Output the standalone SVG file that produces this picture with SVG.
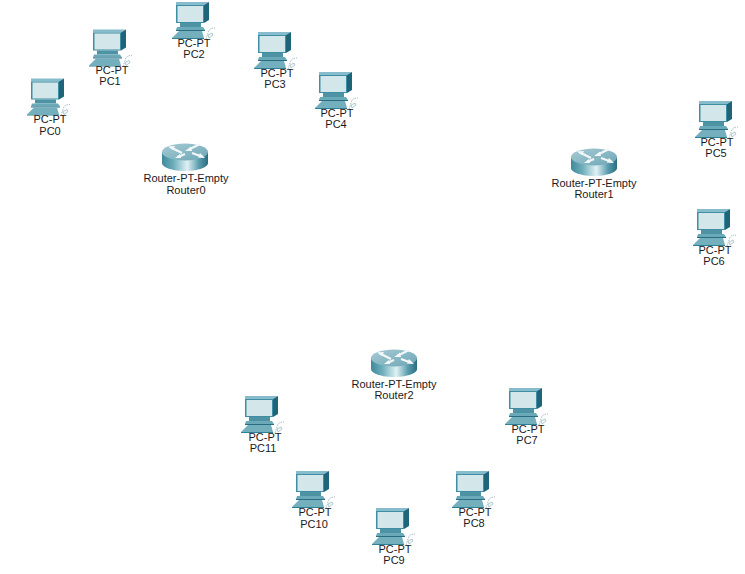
<svg xmlns="http://www.w3.org/2000/svg" width="745" height="574" viewBox="0 0 745 574">
<style>
text{font-family:"Liberation Sans",Arial,sans-serif;font-size:11px;fill:#1a1a1a;text-anchor:middle}
</style>
<defs>
<linearGradient id="body" x1="0" x2="1" y1="0" y2="0">
<stop offset="0" stop-color="#3f8a9c"/><stop offset=".25" stop-color="#6eaebb"/><stop offset=".55" stop-color="#e0f1f4"/><stop offset=".8" stop-color="#5a9dae"/><stop offset="1" stop-color="#2a6d80"/>
</linearGradient>
<linearGradient id="top" x1="0" x2="1" y1="0" y2="1">
<stop offset="0" stop-color="#a6cbd5"/><stop offset="1" stop-color="#6ea6b6"/>
</linearGradient>
<g id="pc">
<path d="M-19-34 H9 L14-34 L9-31 H-19Z" fill="#86bccb"/>
<path d="M9-31 L14-34 V-16 L9-13Z" fill="#1f6579"/>
<rect x="-19" y="-31" width="28" height="18" fill="#3f8ea3"/>
<rect x="-17.500" y="-30" width="25.500" height="16" fill="#d3e6ea"/>
<path d="M-15-13 H6 V-9 H-15Z" fill="#4d93a4"/>
<path d="M-18-9 H8 L10-6 H-19Z" fill="#6aa9b8"/>
<path d="M-19-6 H10 V-5 H-19Z" fill="#2a6d80"/>
<path d="M-16-5 H7 L9 2 H-23Z" fill="#74afbd"/>
<path d="M-23 2 H9 V3 H-23Z" fill="#2f7f95"/>
<path d="M11 3 L13-3 C14-7 16-8 20-8" fill="none" stroke="#8aa9b2" stroke-width=".8" stroke-dasharray="1.500 1"/>
<path d="M13-1 L17-3 L18-1 L14 2Z" fill="#f3f8f9" stroke="#8aa9b2" stroke-width=".6"/>
</g>
<g id="router">
<path d="M-23-7 V4 C-23 9 -11 12 0 12 C11 12 23 9 23 4 V-7Z" fill="url(#body)"/>
<ellipse cx="0" cy="-7" rx="23" ry="8.500" fill="url(#top)"/>
<path d="M-15-12 L-3-6 M5-10 L15-15 M-7-2 L0-5 M7-6 L18-2" fill="none" stroke="#f2f8f9" stroke-width="2"/>
<path d="M-17-12.500 L-10-13 L-12-9ZM0-8 L6-12.500 L7-8ZM-10-1 L-5-5 L-4-1ZM20-1 L13-1.500 L15-6Z" fill="#f2f8f9"/>
</g>
</defs>
<g id="connectors"/>
<g id="PC0"><use href="#pc" x="50" y="112.500"/><text x="50" y="123">PC-PT</text><text x="50" y="135">PC0</text></g>
<g id="PC1"><use href="#pc" x="112" y="63.500"/><text x="112" y="74">PC-PT</text><text x="110" y="85">PC1</text></g>
<g id="PC2"><use href="#pc" x="195" y="36"/><text x="194" y="47">PC-PT</text><text x="194" y="58">PC2</text></g>
<g id="PC3"><use href="#pc" x="277" y="66"/><text x="277" y="77">PC-PT</text><text x="275" y="88">PC3</text></g>
<g id="PC4"><use href="#pc" x="338" y="106"/><text x="337" y="117">PC-PT</text><text x="336" y="128">PC4</text></g>
<g id="Router0"><use href="#router" x="185" y="159"/><text x="186" y="182">Router-PT-Empty</text><text x="186" y="194">Router0</text></g>
<g id="Router1"><use href="#router" x="594" y="164"/><text x="594" y="187">Router-PT-Empty</text><text x="594" y="198">Router1</text></g>
<g id="Router2"><use href="#router" x="394" y="365"/><text x="394" y="388">Router-PT-Empty</text><text x="394" y="399">Router2</text></g>
<g id="PC5"><use href="#pc" x="718" y="135"/><text x="717" y="146">PC-PT</text><text x="716" y="157">PC5</text></g>
<g id="PC6"><use href="#pc" x="716" y="243"/><text x="715" y="254">PC-PT</text><text x="714" y="265">PC6</text></g>
<g id="PC7"><use href="#pc" x="528" y="422"/><text x="528" y="433">PC-PT</text><text x="527" y="444">PC7</text></g>
<g id="PC8"><use href="#pc" x="475" y="505"/><text x="475" y="516">PC-PT</text><text x="474" y="527">PC8</text></g>
<g id="PC9"><use href="#pc" x="395" y="542"/><text x="395" y="553">PC-PT</text><text x="394" y="564">PC9</text></g>
<g id="PC10"><use href="#pc" x="315" y="505"/><text x="315" y="516">PC-PT</text><text x="314" y="528">PC10</text></g>
<g id="PC11"><use href="#pc" x="264" y="430"/><text x="265" y="441">PC-PT</text><text x="263" y="452">PC11</text></g>
</svg>
